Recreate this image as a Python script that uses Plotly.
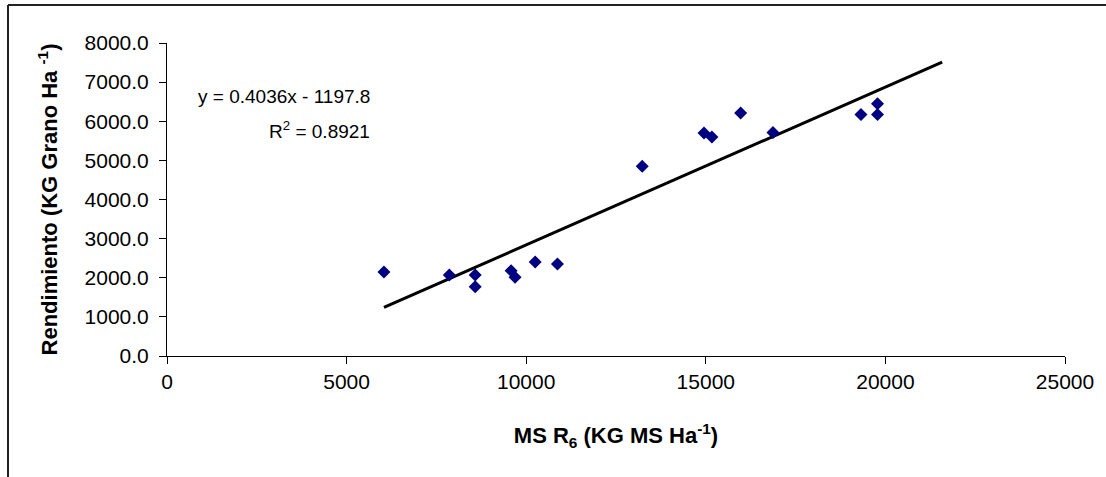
import plotly.graph_objects as go

# Data
ms_r6 = [6040, 7860, 8580, 8580, 9580, 9690, 10250, 10870,
         13230, 14950, 15170, 15970, 16870, 19320, 19780, 19780]
rendimiento = [2150, 2070, 2070, 1770, 2180, 2010, 2400, 2350,
               4850, 5700, 5600, 6210, 5710, 6170, 6170, 6450]

slope = 0.4036
intercept = -1197.8
r2 = 0.8921
trend_x_end = 21580  # trendline forecast end

trend_x = [min(ms_r6), trend_x_end]
trend_y = [slope * v + intercept for v in trend_x]

font_family = "Liberation Sans, Arial, sans-serif"

fig = go.Figure()
fig.add_trace(go.Scatter(
    x=trend_x, y=trend_y, mode="lines",
    line=dict(color="black", width=3), showlegend=False, hoverinfo="skip"))
fig.add_trace(go.Scatter(
    x=ms_r6, y=rendimiento, mode="markers",
    marker=dict(symbol="diamond", color="#000080", size=10,
                line=dict(width=0)), showlegend=False))

fig.add_annotation(x=5707, y=6627, xref="x", yref="y",
                   text="y = %.4fx - %.1f" % (slope, -intercept),
                   showarrow=False, xanchor="right", yanchor="middle",
                   font=dict(size=19, color="black", family=font_family))
fig.add_annotation(x=5707, y=5783, xref="x", yref="y",
                   text="R<sup>2</sup> = %.4f" % r2,
                   showarrow=False, xanchor="right", yanchor="middle",
                   font=dict(size=19, color="black", family=font_family))

# outer frame (top and left edges visible)
W, H = 1106, 477
L, R, T, B = 167, 41, 43, 121
pw, ph = W - L - R, H - T - B
def px(xp):
    return (xp - L) / pw
def py(yp):
    return (H - B - yp) / ph
fig.add_shape(type="line", xref="paper", yref="paper",
              x0=px(8), x1=px(W + 5), y0=py(5), y1=py(5),
              line=dict(color="#222", width=2))
fig.add_shape(type="line", xref="paper", yref="paper",
              x0=px(8), x1=px(8), y0=py(5), y1=py(H + 5),
              line=dict(color="#222", width=2))

fig.update_layout(
    width=W, height=H,
    margin=dict(l=L, r=R, t=T, b=B),
    paper_bgcolor="white", plot_bgcolor="white",
    font=dict(family=font_family, color="black", size=20),
    xaxis=dict(range=[0, 25000], dtick=5000, tick0=0, tickformat="d",
               showgrid=False, zeroline=False,
               showline=True, linecolor="black", linewidth=1,
               ticks="outside", ticklen=7, tickcolor="black",
               tickfont=dict(size=21),
               title=dict(text="<b>MS R<sub>6</sub> (KG MS Ha<sup>-1</sup>)</b>",
                          font=dict(size=22), standoff=35)),
    yaxis=dict(range=[0, 8000], dtick=1000, tick0=0, tickformat=".1f",
               showgrid=False, zeroline=False,
               showline=True, linecolor="black", linewidth=1,
               ticks="outside", ticklen=7, tickcolor="black",
               ticklabelstandoff=6,
               tickfont=dict(size=21),
               title=dict(text="<b>Rendimiento (KG Grano Ha <sup>-1</sup>)</b>",
                          font=dict(size=22), standoff=20)),
)

fig.write_html("out.html")
